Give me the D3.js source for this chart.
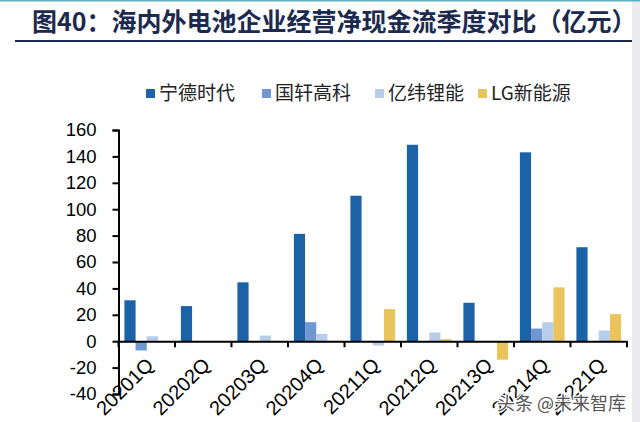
<!DOCTYPE html>
<html><head><meta charset="utf-8">
<script src="https://cdn.jsdelivr.net/npm/d3@7/dist/d3.min.js"></script>
<style>
body{margin:0;background:#fff;}
svg{display:block;font-family:Arial,"Liberation Sans",sans-serif;}
</style></head>
<body><svg id="c" width="640" height="422"></svg>
<script>
const title = "图40：海内外电池企业经营净现金流季度对比（亿元）";
const categories = ["20201Q","20202Q","20203Q","20204Q","20211Q","20212Q","20213Q","20214Q","20221Q"];
const seriesNames = ["宁德时代","国轩高科","亿纬锂能","LG新能源"];
const catl = [31, 26.6, 44.6, 81.3, 110.2, 148.8, 29.1, 143.1, 71.2];
const gotion = [-7, 0, 0, 14.4, 0, 0, 0, 9.6, 0];
const eve = [3.8, 0, 4.3, 5.5, -3.3, 6.6, 0, 14.4, 8.1];
const lges = [null, null, null, null, 24.3, 1.5, -14, 40.8, 20.5];
const yTicks = [-40,-20,0,20,40,60,80,100,120,140,160];
const colors = ["#1c62a6","#7097cf","#b8cde9","#e9c35c"];
const seriesValues = [catl, gotion, eve, lges];

const svg = d3.select("#c");
svg.append("rect").attr("x",632).attr("y",0).attr("width",8).attr("height",422).attr("fill","#ececef");
svg.append("rect").attr("x",0).attr("y",0).attr("width",640).attr("height",1.5).attr("fill","#5fb0bd");

svg.append("text").attr("x",32).attr("y",31).attr("font-size",25).attr("font-weight","bold")
  .attr("font-family","'Noto Sans CJK SC',sans-serif").attr("fill","#1b2a4e").text(title);
svg.append("line").attr("x1",15).attr("x2",632).attr("y1",41).attr("y2",41).attr("stroke","#1b2a4e").attr("stroke-width",2);

// legend
const legX = [146, 262, 375, 478];
const leg = svg.append("g");
seriesNames.forEach((n,i)=>{
  leg.append("rect").attr("x",legX[i]).attr("y",89).attr("width",9).attr("height",9).attr("fill",colors[i]);
  leg.append("text").attr("x",legX[i]+13).attr("y",100).attr("font-size",19)
    .attr("font-family","'Noto Sans CJK SC',sans-serif").attr("fill","#222").text(n);
});

const x0 = d3.scaleBand().domain(categories).range([118.5,627]).paddingInner(0).paddingOuter(0);
const x1 = d3.scaleBand().domain(seriesNames).range([5.9, x0.bandwidth()-5.9]).padding(0);
const y = d3.scaleLinear().domain([-40,160]).range([394,130]);

// bars
seriesNames.forEach((n,si)=>{
  svg.append("g").selectAll("rect").data(seriesValues[si].map((v,i)=>({c:categories[i],v})).filter(d=>d.v!==null))
    .join("rect")
    .attr("x",d=>x0(d.c)+x1(n))
    .attr("width",x1.bandwidth())
    .attr("y",d=>y(Math.max(0,d.v)))
    .attr("height",d=>Math.abs(y(d.v)-y(0)))
    .attr("fill",colors[si]);
});

// y axis
const ya = svg.append("g").attr("transform","translate(118.5,0)")
  .call(d3.axisLeft(y).tickValues(yTicks).tickSize(6).tickPadding(16).tickFormat(d=>String(d)));
ya.select(".domain").attr("stroke","#000").attr("stroke-width",2);
ya.selectAll(".tick line").attr("stroke","#000").attr("stroke-width",2);
ya.selectAll(".tick text").attr("font-size",18.5).attr("fill","#000").attr("font-family","Arial,'Liberation Sans',sans-serif");

// x axis
const xa = svg.append("g").attr("transform",`translate(0,${y(0)})`)
  .call(d3.axisBottom(x0).tickValues([]).tickSizeOuter(0));
xa.select(".domain").attr("stroke","#000").attr("stroke-width",2);
const bounds = categories.map(c=>x0(c)).concat([x0.range()[1]]);
xa.selectAll("line.tk").data(bounds).join("line").attr("class","tk")
  .attr("x1",d=>d).attr("x2",d=>d).attr("y1",0).attr("y2",6).attr("stroke","#000").attr("stroke-width",2);
xa.selectAll("text.lbl").data(categories).join("text").attr("class","lbl")
  .attr("text-anchor","end")
  .attr("transform",d=>`translate(${x0(d)+x0.bandwidth()/2+8},${25}) rotate(-45)`)
  .attr("font-size",20).attr("fill","#000").attr("font-family","Arial,'Liberation Sans',sans-serif")
  .text(d=>d);

// watermark
svg.append("text").attr("x",626).attr("y",410).attr("text-anchor","end").attr("font-size",18)
  .attr("font-family","'Noto Sans CJK SC',sans-serif").attr("fill","#555").attr("stroke","#fff").attr("stroke-width",2.5)
  .attr("paint-order","stroke").text("头条 @未来智库");
</script></body></html>
